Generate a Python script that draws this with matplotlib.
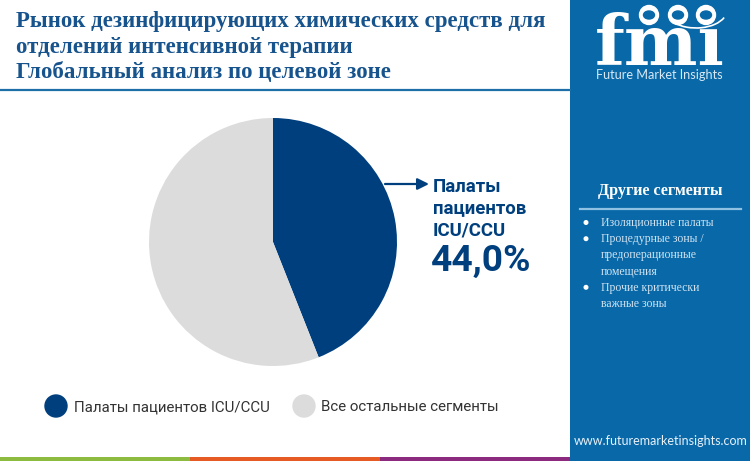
import matplotlib
matplotlib.use('Agg')
import matplotlib.pyplot as plt
from matplotlib.patches import Rectangle, Circle, Ellipse, Arc

title_lines = ['Рынок дезинфицирующих химических средств для',
               'отделений интенсивной терапии',
               'Глобальный анализ по целевой зоне']
segments = ['Палаты пациентов ICU/CCU', 'Все остальные сегменты']
shares = [44.0, 56.0]
colors = ['#003f7d', '#dcdcdc']
callout_lines = ['Палаты', 'пациентов', 'ICU/CCU']
callout_value = '44,0%'
side_title = 'Другие сегменты'
side_items = [['Изоляционные палаты'],
              ['Процедурные зоны /', 'предоперационные', 'помещения'],
              ['Прочие критически', 'важные зоны']]
site = 'www.futuremarketinsights.com'
BLUE = '#0868a8'
W, H = 750, 461

fig = plt.figure(figsize=(7.5, 4.61), dpi=100, facecolor='white')

# overlay in pixel coords, y going down
bg = fig.add_axes([0, 0, 1, 1])
bg.set_xlim(0, W)
bg.set_ylim(H, 0)
bg.axis('off')

# pie
cx, cy, r = 273, 242, 124
ax = fig.add_axes([(cx-r)/W, 1-(cy+r)/H, 2*r/W, 2*r/H])
ax.pie(shares, colors=colors, startangle=90, counterclock=False, radius=1)
ax.set_xlim(-1, 1)
ax.set_ylim(-1, 1)

# title + rule
for i, line in enumerate(title_lines):
    bg.text(16, 22+i*25, line, family='Liberation Serif', weight='bold',
            fontsize=16.5, color='#17538d', va='center')
bg.plot([0, 570], [90, 90], color='#1d6fa8', lw=1.6)

# callout
bg.annotate('', xy=(429, 184), xytext=(385, 184),
            arrowprops=dict(arrowstyle='-|>', color='#003f7d', lw=1.6, mutation_scale=17,
                            shrinkA=0, shrinkB=0))
for i, line in enumerate(callout_lines):
    bg.text(433, 187+i*21.5, line, family='Roboto', weight='bold', fontsize=13.4,
            color='#003f7d', va='center')
bg.text(431, 261, callout_value, family='Roboto', weight='bold', fontsize=26.7,
        color='#003f7d', va='center')

# legend
for x, lab, col, tx in [(56, segments[0], colors[0], 74), (304, segments[1], colors[1], 321)]:
    bg.add_patch(Ellipse((x, 406), 22, 22, color=col))
    bg.text(tx, 407, lab, family='Roboto', fontsize=10.8, color='#333333', va='center')

# bottom stripes
for x0, x1, col in [(0, 190, '#8cbb3f'), (190, 380, '#e65a24'), (380, 570, '#8c2a80')]:
    bg.add_patch(Rectangle((x0, 456.5), x1-x0, 4.5, color=col, lw=0))

# side panel
bg.add_patch(Rectangle((570, 0), 180, 461, color=BLUE, lw=0))
bg.text(660, 190.5, side_title, family='Liberation Serif', weight='bold', fontsize=11.6,
        color='white', ha='center', va='center')
bg.plot([580, 741], [208.5, 208.5], color='#8ec1e2', lw=1.6)
y = 223
for item in side_items:
    bg.add_patch(Circle((586, y-0.5), 1.8, color='white'))
    for line in item:
        bg.text(601, y, line, family='Liberation Serif', fontsize=8.45, color='#cfe3f2', va='center')
        y += 16.2
bg.text(660.5, 441, site, family='Lato', fontsize=9, color='#e8f1f8', ha='center', va='center')

# logo
bg.text(660, 65, 'fmı', family='DejaVu Serif', weight='bold', fontsize=50,
        color='white', ha='center', va='baseline')
for yy in range(18, 66, 5):
    bg.plot([592, 730], [yy, yy], color=BLUE, lw=0.8)
for lx in [649, 678, 706]:
    bg.add_patch(Circle((lx, 15), 9.5, color='white', zorder=3))
    bg.add_patch(Ellipse((lx, 15), 11, 8, color=BLUE, zorder=4))
bg.add_patch(Arc((696, 10), 62, 36, theta1=15, theta2=150, color='white', lw=1.2, zorder=5))
bg.text(659, 75, 'Future Market Insights', family='Lato', fontsize=9.1,
        color='#d8e8f4', ha='center', va='center')

fig.savefig('out.png', dpi=100)
